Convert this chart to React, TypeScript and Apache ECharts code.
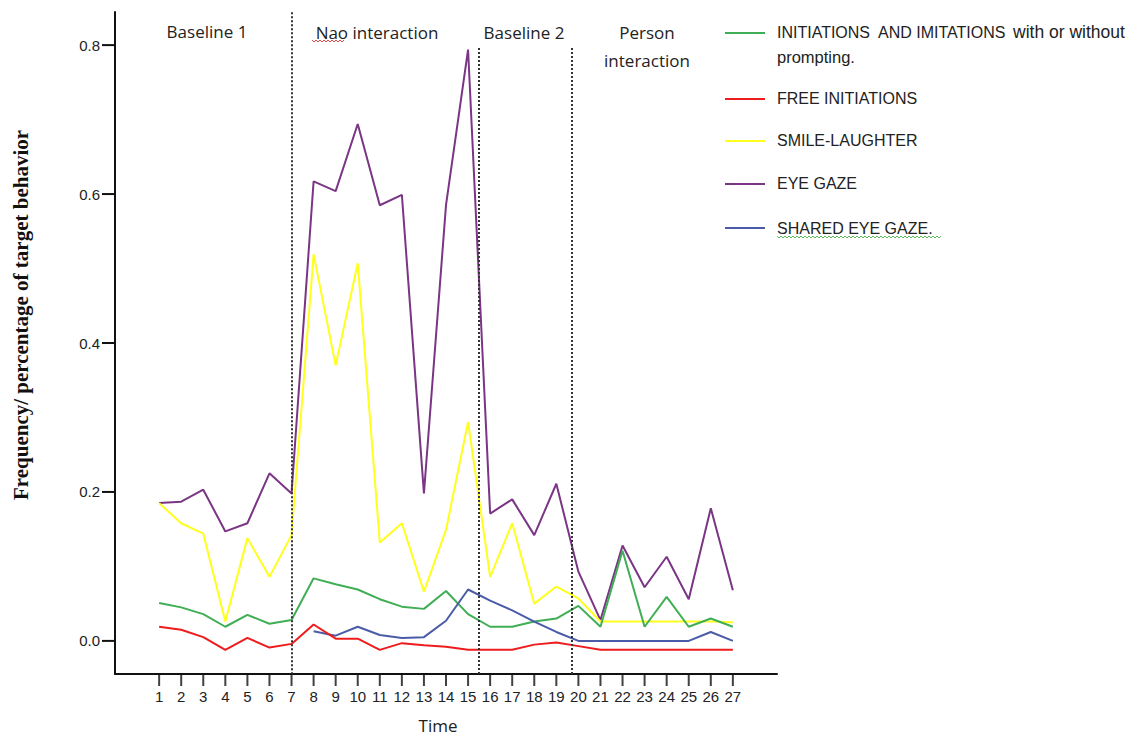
import React, { useEffect, useRef } from "react";
import * as echarts from "echarts";

const timePoints = [1, 2, 3, 4, 5, 6, 7, 8, 9, 10, 11, 12, 13, 14, 15, 16, 17, 18, 19, 20, 21, 22, 23, 24, 25, 26, 27];
const initiationsImitations = [0.051, 0.045, 0.036, 0.019, 0.035, 0.023, 0.028, 0.084, 0.076, 0.069, 0.056, 0.046, 0.043, 0.067, 0.036, 0.019, 0.019, 0.026, 0.030, 0.047, 0.019, 0.121, 0.019, 0.059, 0.019, 0.030, 0.019];
const freeInitiations = [0.019, 0.015, 0.005, -0.012, 0.004, -0.009, -0.004, 0.022, 0.003, 0.003, -0.012, -0.003, -0.006, -0.008, -0.012, -0.012, -0.012, -0.005, -0.002, -0.007, -0.012, -0.012, -0.012, -0.012, -0.012, -0.012, -0.012];
const smileLaughter = [0.185, 0.158, 0.144, 0.026, 0.138, 0.086, 0.142, 0.519, 0.370, 0.507, 0.132, 0.158, 0.066, 0.149, 0.294, 0.086, 0.158, 0.050, 0.073, 0.057, 0.026, 0.026, 0.026, 0.026, 0.026, 0.026, 0.025];
const eyeGaze = [0.185, 0.187, 0.203, 0.147, 0.158, 0.225, 0.198, 0.617, 0.604, 0.694, 0.585, 0.599, 0.198, 0.585, 0.794, 0.171, 0.190, 0.142, 0.211, 0.093, 0.028, 0.128, 0.072, 0.113, 0.056, 0.178, 0.068];
const sharedEyeGaze = [null, null, null, null, null, null, null, 0.013, 0.007, 0.019, 0.008, 0.004, 0.005, 0.027, 0.069, 0.054, 0.041, 0.026, 0.012, 0.000, 0.000, 0.000, 0.000, 0.000, 0.000, 0.012, 0.000];

const seriesNames = [
  "INITIATIONS  AND IMITATIONS with or without prompting.",
  "FREE INITIATIONS",
  "SMILE-LAUGHTER",
  "EYE GAZE",
  "SHARED EYE GAZE.",
];
const seriesColors = ["#3fae55", "#ee1c1c", "#ffff1e", "#7a3584", "#4a5ca8"];

const phaseBoundaries = [7.01, 15.5, 19.71];
const phaseBoundaryTops = [0.844, 0.796, 0.796];
const phaseLabels = ["Baseline 1", "Nao interaction", "Baseline 2", "Person", "interaction"];
const yTickValues = [0, 0.2, 0.4, 0.6, 0.8];
const yTickLabels = ["0.0", "0.2", "0.4", "0.6", "0.8"];

// axis extents (in data units)
const X_MIN = -1;
const X_MAX = 29;
const Y_STEP = 0.2 / 9; // sub-step so that the padded ends fall on a grid
const Y_MIN = -2 * Y_STEP;
const Y_MAX = 38 * Y_STEP;

const TEXT = "#222222";
const AXIS = "#111111";
const SANS = "Liberation Sans, Arial, sans-serif";
const CAL = "Open Sans, sans-serif";

export default function App() {
  const ref = useRef<HTMLDivElement>(null);

  useEffect(() => {
    if (!ref.current) return;
    const chart = echarts.init(ref.current, null, { renderer: "svg" });

    const toPairs = (arr: (number | null)[]) =>
      timePoints.map((t, i) => [t, arr[i]]).filter((p) => p[1] !== null);

    // overlay category axes used for the tick labels
    const xCats: string[] = [];
    for (let v = X_MIN; v <= X_MAX; v++) xCats.push(String(v));
    const xShown = (idx: number) => timePoints.indexOf(idx + X_MIN) >= 0;
    const yCats: string[] = [];
    for (let i = 0; i <= 40; i++) {
      const k = i - 2;
      yCats.push(k >= 0 && k % 9 === 0 ? yTickLabels[k / 9] : "");
    }
    const yShown = (idx: number) => {
      const k = idx - 2;
      return k >= 0 && k % 9 === 0 && k / 9 < yTickLabels.length;
    };

    const allSeries = [eyeGaze, smileLaughter, initiationsImitations, sharedEyeGaze, freeInitiations];
    const order = [3, 2, 0, 4, 1];

    const series: any[] = order.map((idx, k) => ({
      type: "line",
      name: seriesNames[idx],
      data: toPairs(allSeries[k]),
      xAxisIndex: 0,
      yAxisIndex: 0,
      symbol: "none",
      lineStyle: { color: seriesColors[idx], width: 2 },
      itemStyle: { color: seriesColors[idx] },
      z: 3,
    }));

    series.push({
      type: "line",
      name: "phases",
      data: [],
      xAxisIndex: 0,
      yAxisIndex: 0,
      markLine: {
        silent: true,
        symbol: "none",
        label: { show: false },
        lineStyle: { color: "#333", type: "dotted", width: 2 },
        data: phaseBoundaries.map((b, i) => [
          { coord: [b, phaseBoundaryTops[i]] },
          { coord: [b, Y_MIN] },
        ]),
      },
    });

    // axis tick marks, placed on the axes through the value scales
    series.push({
      type: "scatter",
      name: "xTicks",
      silent: true,
      clip: false,
      xAxisIndex: 0,
      yAxisIndex: 0,
      data: timePoints.map((t) => [t, Y_MIN]),
      symbol: "rect",
      symbolSize: [2, 12],
      symbolOffset: [0, 6],
      itemStyle: { color: AXIS },
      z: 5,
    });
    series.push({
      type: "custom",
      name: "yTicks",
      silent: true,
      clip: false,
      xAxisIndex: 0,
      yAxisIndex: 0,
      data: yTickValues.map((v) => [X_MIN, v]),
      renderItem: (params: any, api: any) => {
        const p = api.coord([api.value(0), api.value(1)]);
        return {
          type: "line",
          shape: { x1: p[0] - 13, y1: p[1], x2: p[0], y2: p[1] },
          style: { stroke: AXIS, lineWidth: 2 },
        };
      },
      z: 5,
    });

    const legendRowsY = [33, 99, 141, 184, 228];
    const legendTextY = [32, 98, 140, 183, 228];
    const graphic: any[] = [];
    seriesNames.forEach((n, i) => {
      graphic.push({
        type: "line",
        shape: { x1: 725, y1: legendRowsY[i], x2: 765, y2: legendRowsY[i] },
        style: { stroke: seriesColors[i], lineWidth: 2 },
      });
    });
    graphic.push({
      type: "text",
      x: 777,
      y: legendTextY[0],
      style: { text: "INITIATIONS  AND IMITATIONS", font: `16px ${SANS}`, fill: TEXT, verticalAlign: "middle" },
    });
    graphic.push({
      type: "text",
      x: 1013,
      y: legendTextY[0],
      style: { text: "with or without", font: `17.5px ${SANS}`, fill: TEXT, verticalAlign: "middle" },
    });
    graphic.push({
      type: "text",
      x: 777,
      y: 57,
      style: { text: "prompting.", font: `16.5px ${SANS}`, fill: TEXT, verticalAlign: "middle" },
    });
    for (let i = 1; i < 5; i++) {
      graphic.push({
        type: "text",
        x: 777,
        y: legendTextY[i],
        style: { text: seriesNames[i], font: `16px ${SANS}`, fill: TEXT, verticalAlign: "middle" },
      });
    }
    // spell-check wavy underlines seen in the source image
    const wavy = (x0: number, x1: number, y: number) => {
      const pts: number[][] = [];
      let up = true;
      for (let x = x0; x <= x1; x += 2) {
        pts.push([x, up ? y - 1 : y + 1]);
        up = !up;
      }
      return pts;
    };
    graphic.push({
      type: "polyline",
      shape: { points: wavy(312, 345, 41) },
      style: { stroke: "#e04a4a", lineWidth: 1, fill: "none" },
    });
    graphic.push({
      type: "polyline",
      shape: { points: wavy(777, 941, 237) },
      style: { stroke: "#5cb85c", lineWidth: 1, fill: "none" },
    });

    const phasePos = [
      [207, 31],
      [377, 32],
      [524, 32],
      [647, 32],
      [647, 60],
    ];
    phaseLabels.forEach((t, i) => {
      graphic.push({
        type: "text",
        x: phasePos[i][0],
        y: phasePos[i][1],
        style: { text: t, font: `17px ${CAL}`, fill: TEXT, align: "center", verticalAlign: "middle" },
      });
    });
    graphic.push({
      type: "text",
      x: 21,
      y: 315,
      rotation: Math.PI / 2,
      style: {
        text: "Frequency/ percentage of target behavior",
        font: `bold 21px Liberation Serif, Times New Roman, serif`,
        fill: "#111",
        align: "center",
        verticalAlign: "middle",
      },
    });

    const option: any = {
      animation: false,
      backgroundColor: "#ffffff",
      grid: {
        left: 115,
        right: 352,
        top: 12,
        bottom: 64,
        containLabel: false,
        outerBoundsMode: "none",
      },
      xAxis: [
        {
          type: "value",
          position: "bottom",
          min: X_MIN,
          max: X_MAX,
          name: "Time",
          nameLocation: "middle",
          nameGap: 43,
          nameTextStyle: { fontFamily: CAL, fontSize: 17, color: TEXT, padding: [0, 16, 0, 0] },
          axisLine: { show: true, onZero: false, lineStyle: { color: AXIS, width: 2 } },
          axisTick: { show: false },
          axisLabel: { show: false },
          splitLine: { show: false },
        },
        {
          type: "category",
          position: "bottom",
          data: xCats,
          boundaryGap: false,
          axisLine: { show: false, onZero: false },
          axisTick: { show: false },
          axisLabel: {
            show: true,
            interval: (i: number) => xShown(i),
            fontFamily: SANS,
            fontSize: 15,
            color: TEXT,
            margin: 15,
          },
          splitLine: { show: false },
        },
      ],
      yAxis: [
        {
          type: "value",
          position: "left",
          min: Y_MIN,
          max: Y_MAX,
          axisLine: { show: true, onZero: false, lineStyle: { color: AXIS, width: 2 } },
          axisTick: { show: false },
          axisLabel: { show: false },
          splitLine: { show: false },
        },
        {
          type: "category",
          position: "left",
          data: yCats,
          boundaryGap: false,
          axisLine: { show: false, onZero: false },
          axisTick: { show: false },
          axisLabel: {
            show: true,
            interval: (i: number) => yShown(i),
            fontFamily: SANS,
            fontSize: 15,
            color: TEXT,
            margin: 15,
          },
          splitLine: { show: false },
        },
      ],
      series,
      graphic,
    };

    chart.setOption(option);
    return () => chart.dispose();
  }, []);

  return (
    <div
      ref={ref}
      style={{ position: "absolute", left: 0, top: 0, width: 1129, height: 738 }}
    />
  );
}
